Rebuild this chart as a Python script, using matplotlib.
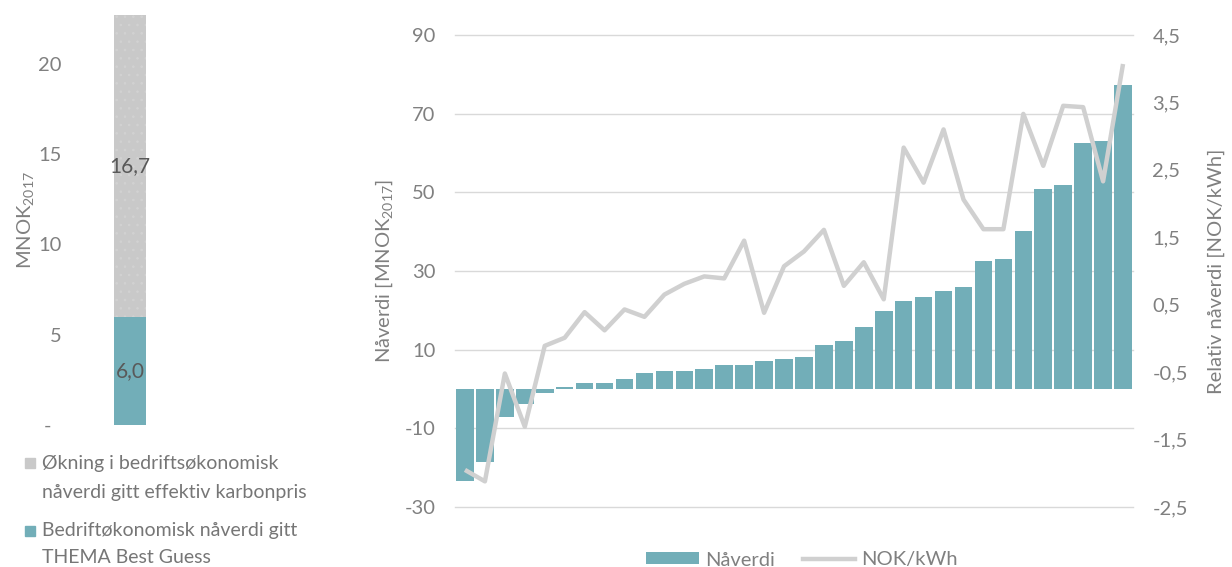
import matplotlib
matplotlib.use('Agg')
import matplotlib.pyplot as plt
from matplotlib.patches import Rectangle, Patch
from matplotlib.lines import Line2D

plt.rcParams['font.family'] = ['Lato', 'DejaVu Sans']
plt.rcParams['mathtext.fontset'] = 'custom'
plt.rcParams['mathtext.rm'] = 'Lato'
plt.rcParams['mathtext.it'] = 'Lato:italic'
plt.rcParams['hatch.linewidth'] = 0.6

# venstre panel: ett stablet søyle
venstre_kategorier = ['Bedriftøkonomisk nåverdi gitt\nTHEMA Best Guess',
                      'Økning i bedriftsøkonomisk\nnåverdi gitt effektiv karbonpris']
venstre_verdier = [6.0, 16.7]
venstre_ticks = [0, 5, 10, 15, 20]
venstre_ticklabels = ['-  ', '5', '10', '15', '20']

# høyre panel: nåverdi per prosjekt (søyler) og NOK/kWh (linje)
naverdi = [-23.4, -18.6, -7.0, -3.8, -0.9, 0.5, 1.5, 1.5, 2.5, 4.1, 4.6, 4.6,
           5.1, 6.1, 6.1, 7.1, 7.6, 8.2, 11.2, 12.2, 15.8, 19.8, 22.4, 23.4,
           24.9, 25.9, 32.6, 33.1, 40.2, 50.9, 51.9, 62.6, 63.1, 77.4]
nok_kwh = [-1.95, -2.12, -0.52, -1.31, -0.11, 0.01, 0.39, 0.12, 0.43, 0.32,
           0.65, 0.81, 0.92, 0.89, 1.45, 0.38, 1.07, 1.29, 1.61, 0.78, 1.13,
           0.58, 2.83, 2.31, 3.10, 2.06, 1.62, 1.62, 3.33, 2.56, 3.45, 3.43,
           2.33, 4.07]
venstre_akse_ticks = [-30, -10, 10, 30, 50, 70, 90]
hoyre_akse_ticks = [-2.5, -1.5, -0.5, 0.5, 1.5, 2.5, 3.5, 4.5]

teal = '#72AEB8'
lysgraa = '#C9C9C9'
linjegraa = '#D0D0D0'
tekstgraa = '#808080'
W, H = 1232, 567

fig = plt.figure(figsize=(W / 100, H / 100), dpi=100)

# ---- venstre panel ----
ax1 = fig.add_axes([80 / W, 1 - 425 / H, 100 / W, 410 / H])
ax1.bar([0], [venstre_verdier[0]], width=0.32, color=teal)
ax1.bar([0], [venstre_verdier[1]], width=0.32, bottom=[venstre_verdier[0]],
        facecolor=lysgraa, edgecolor='#D2D2D2', linewidth=0, hatch='..')
ax1.text(0, venstre_verdier[0] / 2, '{:.1f}'.format(venstre_verdier[0]).replace('.', ','),
         ha='center', va='center', fontsize=15, color='#595959')
ax1.text(0, venstre_verdier[0] + venstre_verdier[1] / 2,
         '{:.1f}'.format(venstre_verdier[1]).replace('.', ','),
         ha='center', va='center', fontsize=15, color='#595959')
ax1.set_xlim(-0.5, 0.5)
ax1.set_ylim(0, sum(venstre_verdier))
ax1.set_xticks([])
ax1.set_yticks(venstre_ticks)
ax1.set_yticklabels(venstre_ticklabels)
ax1.tick_params(axis='y', length=0, pad=13, labelsize=14.5, labelcolor=tekstgraa)
for s in ax1.spines.values():
    s.set_visible(False)
ax1.set_ylabel('MNOK$_{\\mathrm{2017}}$', fontsize=14.5, color=tekstgraa)
ax1.yaxis.set_label_coords(-0.44, 0.5)

# egen forklaring under venstre søyle
farger = [lysgraa, teal]
rekkefolge = [1, 0]
ruter_topp = [458, 526]
grunnlinjer = [[469, 498], [536, 563]]
for k, i in enumerate(rekkefolge):
    fig.patches.append(Rectangle((25 / W, 1 - (ruter_topp[k] + 10) / H), 10 / W, 10 / H,
                                 transform=fig.transFigure, color=farger[k]))
    linjer = venstre_kategorier[i].split('\n')
    for j, linje in enumerate(linjer):
        fig.text(42 / W, 1 - grunnlinjer[k][j] / H, linje, fontsize=14,
                 color='#767676', va='baseline', ha='left')

# ---- høyre panel ----
ax = fig.add_axes([455 / W, 1 - 507 / H, 678 / W, 472 / H])
x = list(range(len(naverdi)))
ax.bar(x, naverdi, width=0.88, color=teal, zorder=2)
ax.set_xlim(-0.5, len(naverdi) - 0.5)
ax.set_ylim(-30, 90)
ax.set_yticks(venstre_akse_ticks)
ax.set_yticklabels([str(v) for v in venstre_akse_ticks])
ax.set_xticks([])
ax.grid(axis='y', color='#D9D9D9', linewidth=1.0)
for gl in ax.yaxis.get_gridlines():
    gl.set_clip_on(False)
ax.set_axisbelow(True)
ax.tick_params(axis='y', length=0, pad=14, labelsize=14.5, labelcolor=tekstgraa)
for s in ax.spines.values():
    s.set_visible(False)
ax.set_ylabel('Nåverdi [MNOK$_{\\mathrm{2017}}$]', fontsize=14.5, color=tekstgraa)
ax.yaxis.set_label_coords(-0.088, 0.5)

ax2 = ax.twinx()
ax2.plot(x, nok_kwh, color=linjegraa, linewidth=3.2, solid_joinstyle='round',
         solid_capstyle='butt')
ax2.set_ylim(-2.5, 4.5)
ax2.set_yticks(hoyre_akse_ticks)
ax2.set_yticklabels(['{:.1f}'.format(v).replace('.', ',') for v in hoyre_akse_ticks])
ax2.tick_params(axis='y', length=0, pad=14, labelsize=14.5, labelcolor=tekstgraa)
for s in ax2.spines.values():
    s.set_visible(False)
ax2.set_ylabel('Relativ nåverdi [NOK/kWh]', fontsize=14.5, color=tekstgraa)
ax2.yaxis.set_label_coords(1.11, 0.5)

handles = [Patch(facecolor=teal, edgecolor='none'),
           Line2D([], [], color=linjegraa, linewidth=3.2)]
fig.legend(handles, ['Nåverdi', 'NOK/kWh'], loc='center', ncol=2,
           bbox_to_anchor=(802 / W, 1 - 560 / H), frameon=False, fontsize=14.5,
           labelcolor=tekstgraa, handlelength=2.6, handleheight=0.55,
           handletextpad=0.3, columnspacing=1.4)

fig.savefig('out.png', dpi=100)
